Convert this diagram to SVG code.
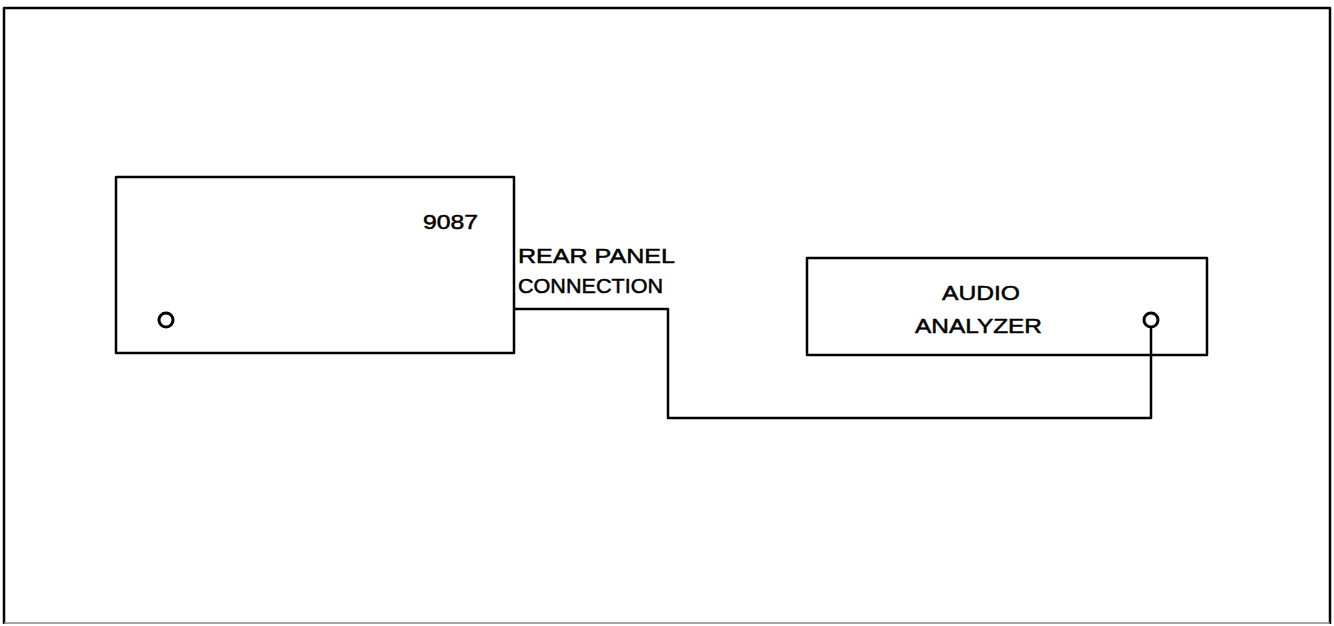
<svg xmlns="http://www.w3.org/2000/svg" width="1334" height="626" viewBox="0 0 1334 626">
<style>
.ln{fill:none;stroke:#000;stroke-width:2.5;stroke-linejoin:round}
.c{fill:none;stroke:#000;stroke-width:3}
.t{font-family:"Liberation Sans",Arial,sans-serif;font-size:21px;fill:#000;stroke:#000;stroke-width:0.5}
</style>
<rect width="1334" height="626" fill="#fff"/>
<g id="frame">
<path d="M4,624 L4,8 L1330,8 L1330,624" class="ln" stroke-width="4"/>
<line x1="4" y1="623" x2="1330" y2="623" stroke="#888" stroke-width="1.5"/>
</g>
<g id="unit9087">
<rect x="116" y="177" width="398" height="176" class="ln"/>
<circle cx="166" cy="320" r="7" class="c"/>
<text x="423" y="229" class="t" font-size="22" textLength="55" lengthAdjust="spacingAndGlyphs">9087</text>
</g>
<g id="analyzer">
<rect x="807" y="258" width="400" height="97" class="ln"/>
<circle cx="1151" cy="320" r="7" class="c"/>
<text x="942" y="300" class="t" font-size="22" textLength="78" lengthAdjust="spacingAndGlyphs">AUDIO</text>
<text x="915" y="333" class="t" font-size="23" textLength="127" lengthAdjust="spacingAndGlyphs">ANALYZER</text>
</g>
<g id="connectors">
<path d="M514,309 L668,309 L668,418 L1151,418 L1151,327" class="ln"/>
<text x="518" y="263" class="t" textLength="157" lengthAdjust="spacingAndGlyphs">REAR PANEL</text>
<text x="518" y="293" class="t" textLength="145" lengthAdjust="spacingAndGlyphs">CONNECTION</text>
</g>
</svg>
